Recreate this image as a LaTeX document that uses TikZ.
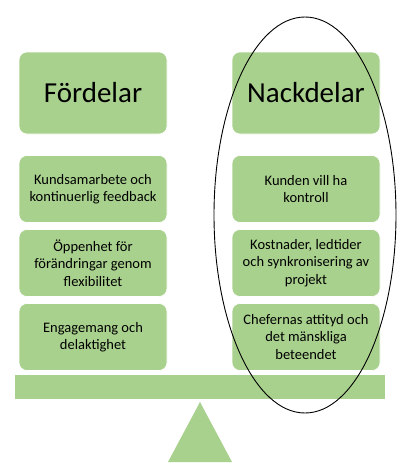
\documentclass[tikz,border=0pt]{standalone}
\usepackage{fontspec}
\setmainfont{Carlito}
\definecolor{boxgreen}{HTML}{A9D18E}
\begin{document}
\begin{tikzpicture}[x=1pt,y=-1pt,
  gbox/.style={fill=boxgreen,draw=white,line width=0.6pt,rounded corners=8pt,minimum width=148pt,inner sep=0pt,align=center,text=black},
  head/.style={gbox,minimum height=82pt,font=\fontsize{29}{33}\selectfont},
  item/.style={gbox,minimum height=67pt,font=\fontsize{14.5}{17.5}\selectfont}]
\useasboundingbox (0,0) rectangle (400,469);
\fill[white] (0,0) rectangle (400,469);
\node[head] (fh) at (93,93) {Fördelar};
\node[head] (nh) at (306,93) {Nackdelar};
\node[item] (f1) at (93,189) {Kundsamarbete och\\kontinuerlig feedback};
\node[item] (f2) at (93,263) {Öppenhet för\\förändringar genom\\flexibilitet};
\node[item] (f3) at (93,337) {Engagemang och\\delaktighet};
\node[item] (n1) at (306,189) {Kunden vill ha\\kontroll};
\node[item] (n2) at (306,263) {Kostnader, ledtider\\och synkronisering av\\projekt};
\node[item] (n3) at (306,337) {Chefernas attityd och\\det mänskliga\\beteendet};
\fill[boxgreen] (15,375) rectangle (385,399);
\fill[boxgreen] (200,402) -- (232,462) -- (168,462) -- cycle;
\draw[black,line width=0.9pt] (305,215) ellipse [x radius=91, y radius=198];
\end{tikzpicture}
\end{document}
